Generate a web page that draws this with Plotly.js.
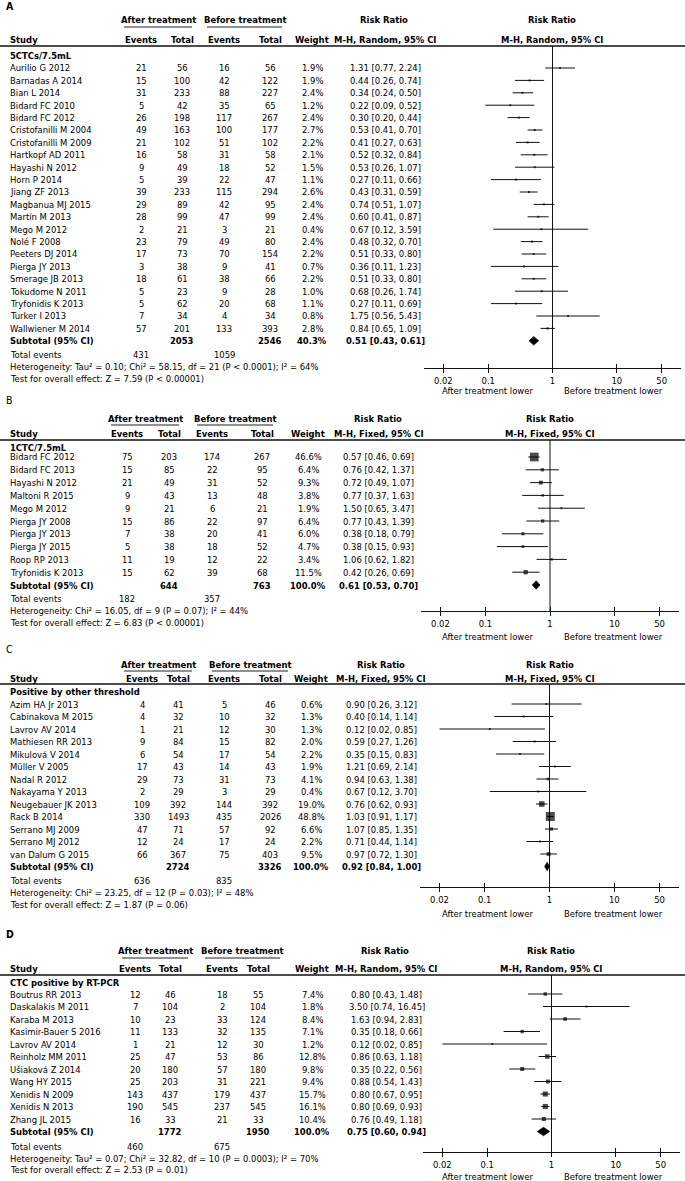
<!DOCTYPE html>
<html>
<head>
<meta charset="utf-8">
<script src="https://cdn.plot.ly/plotly-3.0.1.min.js"></script>
<style>html,body{margin:0;padding:0;background:#fff;}#chart{width:685px;height:1181px;}</style>
</head>
<body>
<div id="chart"></div>
<script>
// ---------------- DATA ----------------
// Panel A: 5CTCs/7.5mL (M-H, Random)
const studiesA = ["Aurilio G 2012","Barnadas A 2014","Bian L 2014","Bidard FC 2010","Bidard FC 2012","Cristofanilli M 2004","Cristofanilli M 2009","Hartkopf AD 2011","Hayashi N 2012","Horn P 2014","Jiang ZF 2013","Magbanua MJ 2015","Martín M 2013","Mego M 2012","Nolé F 2008","Peeters DJ 2014","Pierga JY 2013","Smerage JB 2013","Tokudome N 2011","Tryfonidis K 2013","Turker I 2013","Wallwiener M 2014"];
const afterEvA  = [21,15,31,5,26,49,21,16,9,5,39,29,28,2,23,17,3,18,5,5,7,57];
const afterTotA = [56,100,233,42,198,163,102,58,49,39,233,89,99,21,79,73,38,61,23,62,34,201];
const beforeEvA = [16,42,88,35,117,100,51,31,18,22,115,42,47,3,49,70,9,38,9,20,4,133];
const beforeTotA= [56,122,227,65,267,177,102,58,52,47,294,95,99,21,80,154,41,66,28,68,34,393];
const weightA   = [1.9,1.9,2.4,1.2,2.4,2.7,2.2,2.1,1.5,1.1,2.6,2.4,2.4,0.4,2.4,2.2,0.7,2.2,1.0,1.1,0.8,2.8];
const rrA = [1.31,0.44,0.34,0.22,0.30,0.53,0.41,0.52,0.53,0.27,0.43,0.74,0.60,0.67,0.48,0.51,0.36,0.51,0.68,0.27,1.75,0.84];
const loA = [0.77,0.26,0.24,0.09,0.20,0.41,0.27,0.32,0.26,0.11,0.31,0.51,0.41,0.12,0.32,0.33,0.11,0.33,0.26,0.11,0.56,0.65];
const hiA = [2.24,0.74,0.50,0.52,0.44,0.70,0.63,0.84,1.07,0.66,0.59,1.07,0.87,3.59,0.70,0.80,1.23,0.80,1.74,0.69,5.43,1.09];

// Panel B: 1CTC/7.5mL (M-H, Fixed)
const studiesB = ["Bidard FC 2012","Bidard FC 2013","Hayashi N 2012","Maltoni R 2015","Mego M 2012","Pierga JY 2008","Pierga JY 2013","Pierga JY 2015","Roop RP 2013","Tryfonidis K 2013"];
const afterEvB  = [75,15,21,9,9,15,7,5,11,15];
const afterTotB = [203,85,49,43,21,86,38,38,19,62];
const beforeEvB = [174,22,31,13,6,22,20,18,12,39];
const beforeTotB= [267,95,52,48,21,97,41,52,22,68];
const weightB   = [46.6,6.4,9.3,3.8,1.9,6.4,6.0,4.7,3.4,11.5];
const rrB = [0.57,0.76,0.72,0.77,1.50,0.77,0.38,0.38,1.06,0.42];
const loB = [0.46,0.42,0.49,0.37,0.65,0.43,0.18,0.15,0.62,0.26];
const hiB = [0.69,1.37,1.07,1.63,3.47,1.39,0.79,0.93,1.82,0.69];

// Panel C: Positive by other threshold (M-H, Fixed)
const studiesC = ["Azim HA Jr 2013","Cabinakova M 2015","Lavrov AV 2014","Mathiesen RR 2013","Mikulová V 2014","Müller V 2005","Nadal R 2012","Nakayama Y 2013","Neugebauer JK 2013","Rack B 2014","Serrano MJ 2009","Serrano MJ 2012","van Dalum G 2015"];
const afterEvC  = [4,4,1,9,6,17,29,2,109,330,47,12,66];
const afterTotC = [41,32,21,84,54,43,73,29,392,1493,71,24,367];
const beforeEvC = [5,10,12,15,17,14,31,3,144,435,57,17,75];
const beforeTotC= [46,32,30,82,54,43,73,29,392,2026,92,24,403];
const weightC   = [0.6,1.3,1.3,2.0,2.2,1.9,4.1,0.4,19.0,48.8,6.6,2.2,9.5];
const rrC = [0.90,0.40,0.12,0.59,0.35,1.21,0.94,0.67,0.76,1.03,1.07,0.71,0.97];
const loC = [0.26,0.14,0.02,0.27,0.15,0.69,0.63,0.12,0.62,0.91,0.85,0.44,0.72];
const hiC = [3.12,1.14,0.85,1.26,0.83,2.14,1.38,3.70,0.93,1.17,1.35,1.14,1.30];

// Panel D: CTC positive by RT-PCR (M-H, Random)
const studiesD = ["Boutrus RR 2013","Daskalakis M 2011","Karaba M 2013","Kasimir-Bauer S 2016","Lavrov AV 2014","Reinholz MM 2011","Ušiaková Z 2014","Wang HY 2015","Xenidis N 2009","Xenidis N 2013","Zhang JL 2015"];
const afterEvD  = [12,7,10,11,1,25,20,25,143,190,16];
const afterTotD = [46,104,23,133,21,47,180,203,437,545,33];
const beforeEvD = [18,2,33,32,12,53,57,31,179,237,21];
const beforeTotD= [55,104,124,135,30,86,180,221,437,545,33];
const weightD   = [7.4,1.8,8.4,7.1,1.2,12.8,9.8,9.4,15.7,16.1,10.4];
const rrD = [0.80,3.50,1.63,0.35,0.12,0.86,0.35,0.88,0.80,0.80,0.76];
const loD = [0.43,0.74,0.94,0.18,0.02,0.63,0.22,0.54,0.67,0.69,0.49];
const hiD = [1.48,16.45,2.83,0.66,0.85,1.18,0.56,1.43,0.95,0.93,1.18];

// Subtotals and footers (A, B, C, D)
const panelLetters = ["A","B","C","D"];
const groupLabels = ["5CTCs/7.5mL","1CTC/7.5mL","Positive by other threshold","CTC positive by RT-PCR"];
const methodLabels = ["M-H, Random, 95% CI","M-H, Fixed, 95% CI","M-H, Fixed, 95% CI","M-H, Random, 95% CI"];
const subTotAfter  = [2053,644,2724,1772];
const subTotBefore = [2546,763,3326,1950];
const subWeight    = [40.3,100.0,100.0,100.0];
const subRR = [0.51,0.61,0.92,0.75];
const subLo = [0.43,0.53,0.84,0.60];
const subHi = [0.61,0.70,1.00,0.94];
const totEvAfter  = [431,182,636,460];
const totEvBefore = [1059,357,835,675];
const hetTexts = [
  "Heterogeneity: Tau² = 0.10; Chi² = 58.15, df = 21 (P < 0.0001); I² = 64%",
  "Heterogeneity: Chi² = 16.05, df = 9 (P = 0.07); I² = 44%",
  "Heterogeneity: Chi² = 23.25, df = 12 (P = 0.03); I² = 48%",
  "Heterogeneity: Tau² = 0.07; Chi² = 32.82, df = 10 (P = 0.0003); I² = 70%"
];
const testTexts = [
  "Test for overall effect: Z = 7.59 (P < 0.00001)",
  "Test for overall effect: Z = 6.83 (P < 0.00001)",
  "Test for overall effect: Z = 1.87 (P = 0.06)",
  "Test for overall effect: Z = 2.53 (P = 0.01)"
];
const tickVals = [0.02,0.1,1,10,50];
const tickLabels = ["0.02","0.1","1","10","50"];

const dataSets = [
  {studies:studiesA, ae:afterEvA, at:afterTotA, be:beforeEvA, bt:beforeTotA, w:weightA, rr:rrA, lo:loA, hi:hiA},
  {studies:studiesB, ae:afterEvB, at:afterTotB, be:beforeEvB, bt:beforeTotB, w:weightB, rr:rrB, lo:loB, hi:hiB},
  {studies:studiesC, ae:afterEvC, at:afterTotC, be:beforeEvC, bt:beforeTotC, w:weightC, rr:rrC, lo:loC, hi:hiC},
  {studies:studiesD, ae:afterEvD, at:afterTotD, be:beforeEvD, bt:beforeTotD, w:weightD, rr:rrD, lo:loD, hi:hiD}
];

// ---------------- LAYOUT (pixel positions) ----------------
const W = 685, H = 1181;
const FONT = "'DejaVu Sans Condensed', 'Liberation Sans Narrow', 'Arial Narrow', sans-serif";
const FS = 9.4;
const panels = [
 {labBold:true, lab:6, h1:19, ul:27, h2:39, hl:46, grp:56, row1:68, s:12.4, tot:354, het:366.5, test:378.5, ax:368, low:391, fx:[424,681],
  c:{ev1:141,tot1:182,ev2:224,tot2:270,wt:312,rr:385}, hd:{after:158,before:245,rr:384,rr2:552}, ulA:[124,192], ulB:[207,282]},
 {labBold:false, lab:400, h1:418, ul:425, h2:433, hl:440, grp:448, row1:457, s:12.8, tot:598, het:610.5, test:622.5, ax:611, low:636, fx:[421,679],
  c:{ev1:127,tot1:169,ev2:212,tot2:262,wt:308,rr:379}, hd:{after:145,before:235,rr:378,rr2:550}, ulA:[111,179], ulB:[197,273]},
 {labBold:false, lab:649, h1:664, ul:671, h2:678, hl:684, grp:691, row1:704, s:12.5, tot:880, het:892, test:904, ax:887, low:913, fx:[420,679],
  c:{ev1:142,tot1:178,ev2:224,tot2:270,wt:311,rr:381}, hd:{after:158,before:250,rr:381,rr2:550}, ulA:[124,192], ulB:[212,288]},
 {labBold:true, lab:934, h1:950, ul:958, h2:968, hl:975, grp:982.5, row1:994, s:12.5, tot:1146, het:1158, test:1169.5, ax:1152, low:1176, fx:[423,680],
  c:{ev1:135,tot1:170,ev2:222,tot2:258,wt:312,rr:387}, hd:{after:155,before:243,rr:385,rr2:551}, ulA:[122,188], ulB:[205,280]}
];

const TXT = '#000';
function ann(text, x, y, yref, xanchor, bold, size) {
  return {text: bold ? '<b>'+text+'</b>' : text, x: x/W, xref:'paper',
    y: yref === 'paper' ? 1 - y/H : y, yref: yref, xanchor: xanchor || 'center', yanchor:'middle',
    showarrow:false, font:{family:FONT, size:size||FS, color:TXT}};
}
function hline(x0, x1, y, w, col) {
  return {type:'line', xref:'paper', yref:'paper', x0:x0/W, x1:x1/W, y0:1-y/H, y1:1-y/H, line:{color:col||'#111', width:w||1}};
}
const fmtRR = (r,l,h) => r.toFixed(2)+' ['+l.toFixed(2)+', '+h.toFixed(2)+']';

const traces = [];
const annotations = [];
const shapes = [];
const layout = {
  width:W, height:H, margin:{l:0,r:0,t:0,b:0}, paper_bgcolor:'#fff', plot_bgcolor:'rgba(0,0,0,0)',
  showlegend:false, xaxis:{visible:false, domain:[0,1], range:[0,1], anchor:'y'}
};

panels.forEach((p, k) => {
  const d = dataSets[k];
  const n = d.studies.length;
  const ya = k === 0 ? 'y' : 'y'+(k+1);
  const yKey = k === 0 ? 'yaxis' : 'yaxis'+(k+1);
  const xa = 'x'+(k+2), xKey = 'xaxis'+(k+2);
  const xi = 'x'+(k+6), xiKey = 'xaxis'+(k+6);
  const vt = (p.hl - p.row1)/p.s, vb = (p.ax - p.row1)/p.s;
  const dom = [p.fx[0]/W, p.fx[1]/W];

  layout[yKey] = {domain:[1-p.ax/H, 1-p.hl/H], range:[vb, vt], visible:false, showgrid:false, zeroline:false};
  layout[xKey] = {type:'log', domain:dom, range:[-2,2], anchor:ya, tickvals:tickVals, ticktext:tickLabels,
    ticks:'outside', ticklen:4, tickwidth:1, tickcolor:'#111', showline:true, linecolor:'#111', linewidth:1,
    showgrid:false, zeroline:false, tickfont:{family:FONT, size:FS, color:TXT}};
  layout[xiKey] = {type:'log', range:[-2,2], anchor:ya, overlaying:xa, tickvals:tickVals,
    ticks:'inside', ticklen:4, tickwidth:1, tickcolor:'#111', showticklabels:false, showline:false,
    showgrid:false, zeroline:false};

  const idx = d.studies.map((_, i) => i);
  traces.push({type:'scatter', mode:'lines', x:[tickVals[2], tickVals[2]], y:[vt, vb], xaxis:xa, yaxis:ya,
    line:{color:'#111', width:1}, hoverinfo:'skip', cliponaxis:false});
  traces.push({type:'scatter', mode:'markers', x:[tickVals[2]], y:[vb], xaxis:xi, yaxis:ya,
    marker:{size:1, opacity:0}, hoverinfo:'skip'});
  const wx = [], wy = [];
  idx.forEach(i => { wx.push(d.lo[i], d.hi[i], null); wy.push(i, i, null); });
  traces.push({type:'scatter', mode:'lines', x:wx, y:wy, xaxis:xa, yaxis:ya,
    line:{color:'#111', width:1}, hoverinfo:'skip', cliponaxis:false});
  traces.push({type:'scatter', mode:'markers', x:d.rr, y:idx, xaxis:xa, yaxis:ya,
    marker:{symbol:'square', color:'#000', size:d.w.map(w => Math.max(2, 1.28*Math.sqrt(w))), line:{width:0}},
    hoverinfo:'skip', cliponaxis:false});
  const hh = 4.3/p.s;
  traces.push({type:'scatter', mode:'lines', x:[subLo[k], subRR[k], subHi[k], subRR[k], subLo[k]],
    y:[n, n-hh, n, n+hh, n], fill:'toself', fillcolor:'#000', line:{color:'#000', width:0.6},
    xaxis:xa, yaxis:ya, hoverinfo:'skip', cliponaxis:false});

  annotations.push(ann(panelLetters[k], 4, p.lab, 'paper', 'left', p.labBold, 10.5));
  annotations.push(ann('After treatment', p.hd.after, p.h1, 'paper', 'center', true));
  annotations.push(ann('Before treatment', p.hd.before, p.h1, 'paper', 'center', true));
  annotations.push(ann('Risk Ratio', p.hd.rr, p.h1, 'paper', 'center', true));
  annotations.push(ann('Risk Ratio', p.hd.rr2, p.h1, 'paper', 'center', true));
  annotations.push(ann('Study', 8, p.h2, 'paper', 'left', true));
  annotations.push(ann('Events', p.c.ev1, p.h2, 'paper', 'center', true));
  annotations.push(ann('Total', p.c.tot1, p.h2, 'paper', 'center', true));
  annotations.push(ann('Events', p.c.ev2, p.h2, 'paper', 'center', true));
  annotations.push(ann('Total', p.c.tot2, p.h2, 'paper', 'center', true));
  annotations.push(ann('Weight', p.c.wt, p.h2, 'paper', 'center', true));
  annotations.push(ann(methodLabels[k], p.c.rr, p.h2, 'paper', 'center', true));
  annotations.push(ann(methodLabels[k], p.hd.rr2, p.h2, 'paper', 'center', true));
  annotations.push(ann(groupLabels[k], 8, p.grp, 'paper', 'left', true));

  shapes.push(hline(p.ulA[0], p.ulA[1], p.ul, 1, '#222'));
  shapes.push(hline(p.ulB[0], p.ulB[1], p.ul, 1, '#222'));
  shapes.push(hline(0, W, p.hl, 1.3, '#111'));

  idx.forEach(i => {
    annotations.push(ann(d.studies[i], 8, i, ya, 'left'));
    annotations.push(ann(String(d.ae[i]), p.c.ev1, i, ya));
    annotations.push(ann(String(d.at[i]), p.c.tot1, i, ya));
    annotations.push(ann(String(d.be[i]), p.c.ev2, i, ya));
    annotations.push(ann(String(d.bt[i]), p.c.tot2, i, ya));
    annotations.push(ann(d.w[i].toFixed(1)+'%', p.c.wt, i, ya));
    annotations.push(ann(fmtRR(d.rr[i], d.lo[i], d.hi[i]), p.c.rr, i, ya));
  });
  annotations.push(ann('Subtotal (95% CI)', 8, n, ya, 'left', true));
  annotations.push(ann(String(subTotAfter[k]), p.c.tot1, n, ya, 'center', true));
  annotations.push(ann(String(subTotBefore[k]), p.c.tot2, n, ya, 'center', true));
  annotations.push(ann(subWeight[k].toFixed(1)+'%', p.c.wt, n, ya, 'center', true));
  annotations.push(ann(fmtRR(subRR[k], subLo[k], subHi[k]), p.c.rr, n, ya, 'center', true));

  annotations.push(ann('Total events', 8, p.tot, 'paper', 'left'));
  annotations.push(ann(String(totEvAfter[k]), p.c.ev1, p.tot, 'paper'));
  annotations.push(ann(String(totEvBefore[k]), p.c.ev2, p.tot, 'paper'));
  annotations.push(ann(hetTexts[k], 8, p.het, 'paper', 'left'));
  annotations.push(ann(testTexts[k], 8, p.test, 'paper', 'left'));
  annotations.push(ann('After treatment lower', 487, p.low, 'paper'));
  annotations.push(ann('Before treatment lower', 613, p.low, 'paper'));
});

layout.annotations = annotations;
layout.shapes = shapes;

Plotly.newPlot('chart', traces, layout, {displayModeBar:false, staticPlot:true});
</script>
</body>
</html>
